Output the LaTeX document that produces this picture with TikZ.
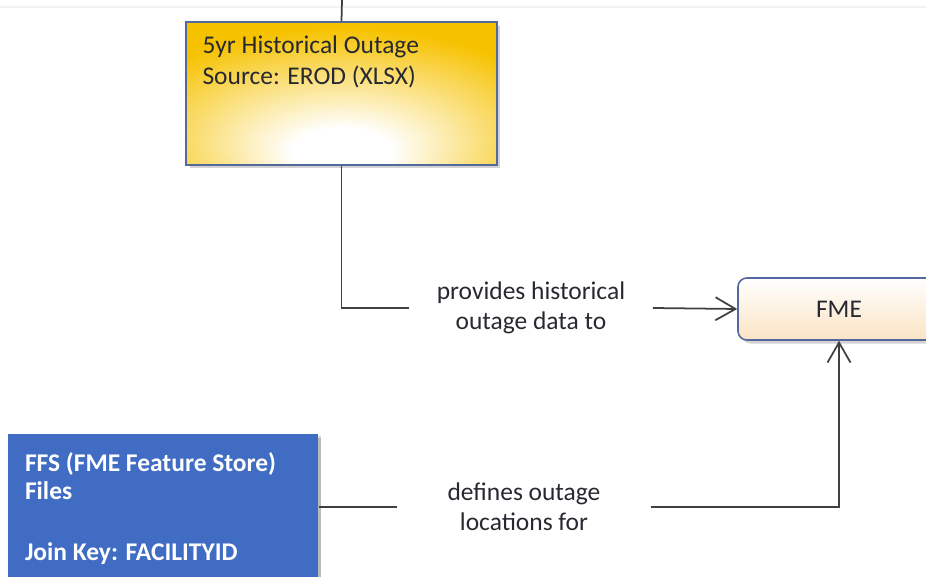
\documentclass[tikz,border=0pt]{standalone}
\usepackage{fontspec}
\setmainfont{Carlito}
\usetikzlibrary{arrows.meta,shadows}
\definecolor{gold}{RGB}{246,194,0}
\definecolor{frame}{RGB}{84,104,160}
\definecolor{cream}{RGB}{250,228,196}
\definecolor{ffsblue}{RGB}{64,108,196}
\definecolor{txt}{RGB}{40,40,48}
\pgfdeclareradialshading{glow}{\pgfpoint{0bp}{-22bp}}{color(0bp)=(white); color(8bp)=(white); color(36bp)=(gold); color(90bp)=(gold)}
\tikzset{
  box/.style={draw=frame, line width=.9pt, inner sep=0pt, anchor=center,
    drop shadow={shadow xshift=2pt, shadow yshift=-2pt, opacity=.35}},
  lbl/.style={align=center, text=txt, inner sep=0pt, font=\fontsize{14.5}{17}\selectfont},
}
\begin{document}
\begin{tikzpicture}[x=0.02cm, y=-0.02cm, >={Straight Barb[length=4mm,width=4.6mm]}, line width=1pt, color=black!75]
\clip (0,0) rectangle (926,577);
\draw[gray!10, line width=.6pt] (0,7)--(926,7);

\coordinate (top) at (342,0);
\node[box, shade, shading=glow, minimum width=6.22cm, minimum height=2.86cm] (hist) at (341.5,93.5)
  {\parbox[c][2.32cm][t]{5.56cm}{\fontsize{14.5}{18}\selectfont\color{txt}5yr Historical Outage\\Source: EROD (XLSX)}};
\node[box, rounded corners=5pt, top color=white, bottom color=cream, minimum width=4.04cm, minimum height=1.24cm,
  font=\fontsize{14.5}{15}\selectfont, text=txt] (fme) at (839,309) {FME};
\node[box, draw=none, fill=ffsblue, minimum width=6.2cm, minimum height=3.6cm,
  drop shadow={shadow xshift=2pt, shadow yshift=-1pt, opacity=.3}] (ffs) at (163,524)
  {\parbox[c][2.86cm][t]{5.52cm}{\fontsize{14.5}{15.9}\selectfont\bfseries\color{white}FFS (FME Feature Store)\\Files\\[19pt]Join Key: FACILITYID}};

\node[lbl, minimum width=4.84cm] (prov) at (531,308) {provides historical\\outage data to};
\node[lbl, minimum width=5.04cm] (defs) at (524,507) {defines outage\\locations for};

\draw (top)--(hist.north);
\draw (hist.south) |- (prov.west);
\draw[->] (prov.east)--(fme.west);
\draw (ffs.east |- defs.west)--(defs.west);
\draw[->] (defs.east) -| (fme.south);
\end{tikzpicture}
\end{document}
